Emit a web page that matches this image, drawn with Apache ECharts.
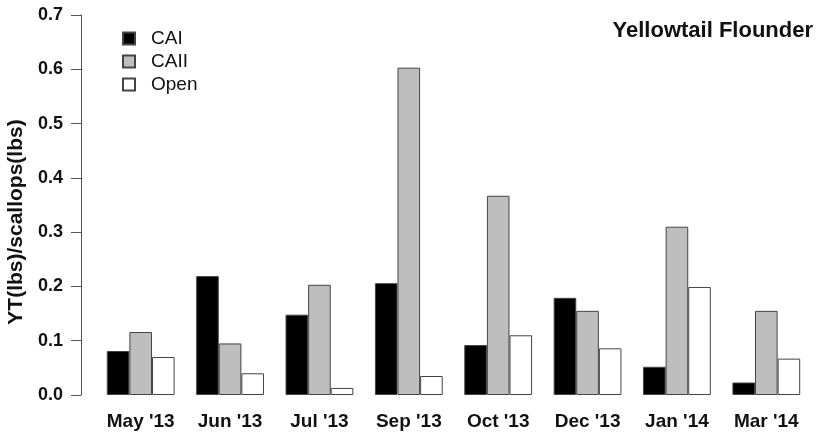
<!DOCTYPE html>
<html>
<head>
<meta charset="utf-8">
<script src="https://cdn.jsdelivr.net/npm/echarts@6/dist/echarts.min.js"></script>
<style>
  html, body { margin: 0; padding: 0; background: #fff; }
  #chart { width: 817px; height: 436px; }
</style>
</head>
<body>
<div id="chart"></div>
<script>
// Sampling months
const months = ["May '13", "Jun '13", "Jul '13", "Sep '13", "Oct '13", "Dec '13", "Jan '14", "Mar '14"];

// Yellowtail bycatch ratio by access area
const cai  = [0.081, 0.219, 0.148, 0.206, 0.092, 0.179, 0.052, 0.023];
const caii = [0.116, 0.095, 0.203, 0.603, 0.367, 0.155, 0.310, 0.155];
const open = [0.070, 0.040, 0.013, 0.035, 0.110, 0.086, 0.199, 0.067];

const FONT = 'Liberation Sans, Arial, Helvetica, sans-serif';

const chart = echarts.init(document.getElementById('chart'), null, { renderer: 'canvas' });

function barSeries(name, data, fill) {
  return {
    name: name,
    type: 'bar',
    data: data,
    barWidth: 22.6,
    barGap: '0%',
    itemStyle: { color: fill, borderColor: '#444', borderWidth: 1 },
    emphasis: { disabled: true }
  };
}

chart.setOption({
  animation: false,
  backgroundColor: '#ffffff',
  textStyle: { fontFamily: FONT },
  grid: { left: 96, right: 6, top: 15, bottom: 41, containLabel: false },
  title: {
    text: 'Yellowtail Flounder',
    right: 4,
    top: 20,
    padding: 0,
    textStyle: { fontFamily: FONT, fontSize: 22, fontWeight: 'bold', color: '#111' }
  },
  legend: {
    orient: 'vertical',
    left: 117,
    top: 24,
    itemWidth: 12,
    itemHeight: 12,
    itemGap: 4,
    icon: 'rect',
    selectedMode: false,
    textStyle: { fontFamily: FONT, fontSize: 19, color: '#111', padding: [0, 0, 0, 11], lineHeight: 19 },
    data: ['CAI', 'CAII', 'Open']
  },
  xAxis: {
    type: 'category',
    data: months,
    boundaryGap: true,
    axisLine: { show: false },
    axisTick: { show: false },
    axisLabel: {
      margin: 17,
      fontFamily: FONT,
      fontSize: 19,
      fontWeight: 'bold',
      color: '#111'
    }
  },
  yAxis: {
    type: 'value',
    min: 0,
    max: 0.7,
    interval: 0.1,
    offset: 15,
    splitLine: { show: false },
    axisLine: { show: true, lineStyle: { color: '#555', width: 1 } },
    axisTick: { show: true, length: 10, lineStyle: { color: '#555', width: 1 } },
    axisLabel: {
      margin: 18,
      fontFamily: FONT,
      fontSize: 18,
      fontWeight: 'bold',
      color: '#111',
      formatter: v => v.toFixed(1)
    }
  },
  graphic: [{
    type: 'text',
    rotation: Math.PI / 2,
    x: 16,
    y: 222,
    style: {
      text: 'YT(lbs)/scallops(lbs)',
      font: 'bold 21px ' + FONT,
      fill: '#111',
      textAlign: 'center',
      textVerticalAlign: 'middle'
    }
  }],
  series: [
    barSeries('CAI', cai, '#000000'),
    barSeries('CAII', caii, '#bebebe'),
    barSeries('Open', open, '#ffffff')
  ]
});
</script>
</body>
</html>
